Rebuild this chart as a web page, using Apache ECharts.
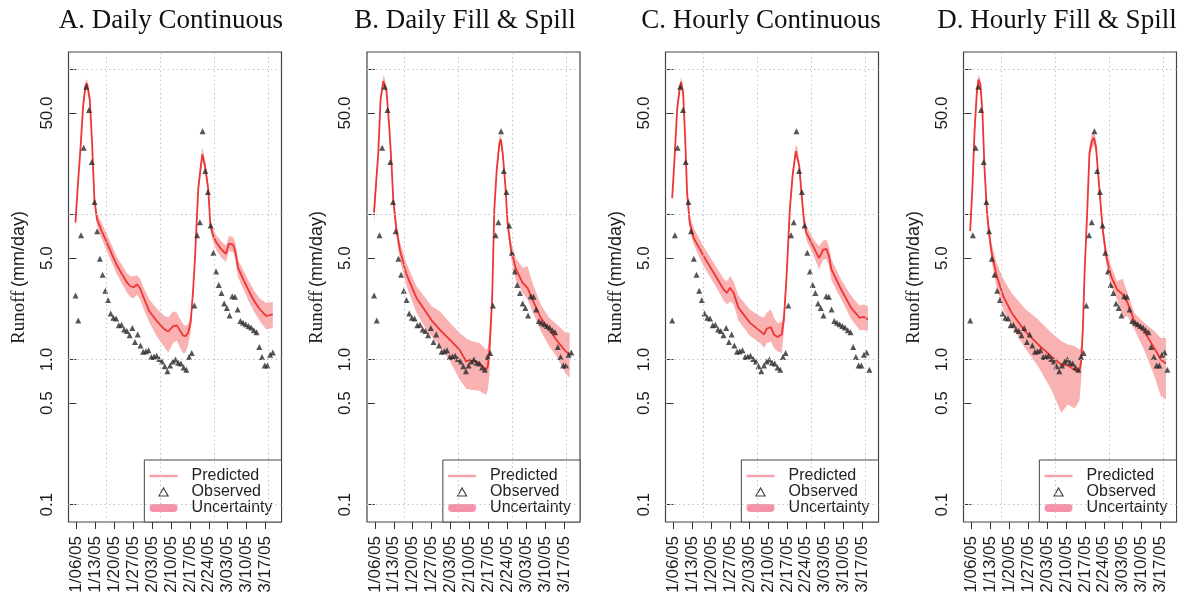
<!DOCTYPE html>
<html>
<head>
<meta charset="utf-8">
<title>Runoff: predicted vs observed</title>
<script src="https://cdn.jsdelivr.net/npm/echarts@6/dist/echarts.min.js"></script>
<style>
  html, body { margin: 0; padding: 0; background: #fff; }
  #chart { width: 1196px; height: 598px; }
</style>
</head>
<body>
<div id="chart"></div>
<script>
// ---- data (days counted from 1/06/05) ----
const panelTitles = ['A. Daily Continuous', 'B. Daily Fill & Spill', 'C. Hourly Continuous', 'D. Hourly Fill & Spill']

const xTickDays = [0, 7, 14, 21, 28, 35, 42, 49, 56, 63, 70]
const xTickLabels = ['1/06/05', '1/13/05', '1/20/05', '1/27/05', '2/03/05', '2/10/05', '2/17/05', '2/24/05', '3/03/05', '3/10/05', '3/17/05']
const yTickValues = [0.1, 0.5, 1, 5, 10, 50, 100]
const yLabelValues = [0.1, 0.5, 1, 5, 50]
const yLabelTexts = ['0.1', '0.5', '1.0', '5.0', '50.0']
const gridDays = [11, 31, 51, 71]
const gridDecades = [0.1, 1, 10, 100]

// observed runoff, one value per day
const observed = [
  2.76, 1.86, 7.2, 28.8, 76, 52.4, 23, 12.2, 7.67, 4.95,
  3.84, 2.98, 2.57, 2.08, 1.94, 1.92, 1.72, 1.74, 1.61, 1.57,
  1.47, 1.65, 1.32, 1.49, 1.25, 1.13, 1.14, 1.16, 1.04, 1.05,
  1.06, 1.01, 0.97, 0.9, 0.83, 0.91, 0.97, 1.0, 0.95, 0.94,
  0.88, 0.85, 1.04, 1.11, 2.36, 7.2, 8.85, 37.5, 19.9, 14.3,
  8.4, 5.44, 4.05, 3.27, 2.88, 2.43, 2.27, 2.01, 2.73, 2.71,
  2.21, 1.84, 1.79, 1.75, 1.7, 1.66, 1.59, 1.54, 1.22, 1.04,
  0.91, 0.91, 1.08, 1.12, 0.85
]

// A. Daily Continuous
const predDaysA = [-0.33, 0.5, 1.5, 2.5, 3.35, 3.95, 4.95, 5.8, 6.65, 7.6, 9.5, 11.3, 13, 15, 17, 18.7, 20, 21.2, 22.4, 23.6, 24.8, 27, 29.7, 32.5, 34, 35.8, 37.2, 38.4, 39.6, 40.4, 41.3, 42.3, 43.2, 43.9, 45.1, 45.8, 46.6, 47.6, 48.8, 49.6, 50.6, 51.8, 53.5, 55.3, 56.5, 58, 58.9, 59.8, 62, 64.1, 66, 67.8, 70.2, 72.7]
const predA = [8.8, 15.5, 28.3, 56, 77, 80, 62, 31.5, 12.8, 9.3, 7.6, 6.4, 5.4, 4.45, 3.85, 3.4, 3.2, 3.15, 3.3, 3.1, 2.7, 2.15, 1.85, 1.62, 1.56, 1.7, 1.72, 1.58, 1.46, 1.45, 1.52, 1.8, 3.0, 5.0, 15, 19.5, 26, 21.7, 15, 8.4, 7.2, 6.4, 5.8, 5.35, 6.3, 6.2, 5.5, 4.3, 3.5, 2.9, 2.5, 2.23, 2.0, 2.05]
const upperA = [9.8, 17, 31, 61, 83, 86, 67, 34, 14, 10.3, 8.6, 7.3, 6.2, 5.1, 4.45, 3.95, 3.75, 3.75, 3.8, 3.6, 3.15, 2.6, 2.25, 2.0, 1.95, 2.15, 2.1, 1.9, 1.75, 1.7, 1.75, 2.05, 3.3, 5.5, 16.3, 21.3, 29, 23.8, 16.3, 9.2, 8.0, 7.2, 6.6, 6.1, 7.1, 7.0, 6.3, 4.9, 4.05, 3.4, 2.95, 2.65, 2.45, 2.5]
const lowerA = [7.9, 14, 26, 51, 71, 74, 57, 29, 11.6, 8.4, 6.7, 5.6, 4.7, 3.85, 3.3, 2.9, 2.7, 2.65, 2.8, 2.6, 2.25, 1.8, 1.45, 1.22, 1.12, 1.3, 1.35, 1.2, 1.1, 1.12, 1.25, 1.55, 2.7, 4.5, 13.8, 17.8, 23.5, 19.8, 13.8, 7.7, 6.5, 5.7, 5.1, 4.7, 5.6, 5.5, 4.8, 3.7, 3.0, 2.45, 2.1, 1.85, 1.62, 1.65]

// B. Daily Fill & Spill
const predDaysB = [-0.33, 0.4, 1.26, 2.1, 3.1, 3.35, 4.3, 5.3, 6.2, 6.8, 7.8, 9.25, 11.7, 15.4, 19.1, 20.9, 24, 27.7, 31.3, 33.8, 35.6, 38.7, 41.2, 41.8, 42.4, 43.4, 44.2, 45.1, 46.1, 46.6, 47.3, 48.3, 49.1, 50.4, 52.2, 54.7, 56.5, 58.3, 61.4, 64.5, 67.5, 70.6, 72.1]
const predB = [10.3, 16, 26.6, 62, 83, 85, 71, 40.5, 21.5, 12.7, 8.3, 5.7, 3.86, 2.66, 2.1, 1.87, 1.61, 1.37, 1.17, 0.97, 1.0, 0.94, 0.85, 0.9, 1.17, 2.6, 10.8, 20.4, 31.2, 32.9, 26.6, 15.7, 8.8, 5.7, 4.2, 3.38, 3.12, 2.6, 1.94, 1.61, 1.34, 1.14, 1.08]
const upperB = [12.3, 18, 29, 67, 89, 91, 76, 44, 23.5, 14, 9.3, 6.5, 4.6, 3.2, 2.6, 2.35, 2.15, 1.8, 1.53, 1.4, 1.34, 1.3, 1.17, 1.2, 1.5, 3.1, 12, 22.5, 34, 36, 29, 17.3, 9.8, 6.5, 5.0, 4.3, 4.4, 3.4, 2.4, 1.94, 1.74, 1.53, 1.53]
const lowerB = [8.5, 14, 24, 57, 77, 79, 66, 37, 19.5, 11.5, 7.4, 4.9, 3.2, 2.1, 1.6, 1.45, 1.24, 0.98, 0.73, 0.63, 0.62, 0.61, 0.57, 0.62, 0.78, 2.2, 9.6, 18.5, 28.5, 30, 24.4, 14.3, 7.9, 5.0, 3.5, 2.88, 2.6, 2.15, 1.57, 1.24, 1.03, 0.8, 0.75]

// C. Hourly Continuous
const predDaysC = [-0.45, 0.4, 1.39, 2.37, 2.86, 3.6, 4.33, 5.07, 6.05, 7.5, 11.2, 14.9, 18.6, 19.8, 21.0, 22.3, 24.1, 28.4, 32.1, 33.6, 34.5, 36.1, 37.2, 38.5, 40.1, 40.9, 41.9, 43.1, 44.1, 45.3, 45.8, 46.6, 47.4, 48.3, 49.2, 51.7, 53.9, 55.4, 56.6, 57.6, 58.5, 62.1, 65.8, 68.9, 70.4, 72.0]
const predC = [13.0, 23.9, 53, 74.8, 82, 69, 34.7, 14.1, 8.76, 6.9, 5.16, 3.96, 3.04, 2.88, 3.12, 2.88, 2.27, 1.79, 1.57, 1.49, 1.63, 1.67, 1.49, 1.43, 1.49, 1.89, 3.76, 10.8, 18.4, 27.3, 27, 21.5, 14.1, 9.2, 7.5, 6.05, 5.0, 5.7, 5.8, 5.16, 4.18, 3.04, 2.27, 1.94, 1.97, 1.89]
const upperC = [14.2, 26, 57.5, 81, 88.5, 75, 38, 15.5, 9.8, 8.1, 6.0, 4.64, 3.6, 3.45, 3.76, 3.45, 2.75, 2.2, 1.99, 1.95, 2.1, 2.21, 1.95, 1.79, 1.8, 2.2, 4.2, 11.8, 20, 30, 29.5, 23.5, 15.4, 10.2, 8.4, 6.8, 6.05, 6.6, 6.7, 6.0, 4.9, 3.56, 2.75, 2.35, 2.4, 2.33]
const lowerC = [11.8, 21.8, 48.5, 68.5, 75.5, 63, 31.5, 12.8, 7.8, 6.2, 4.4, 3.38, 2.55, 2.4, 2.52, 2.4, 1.85, 1.45, 1.3, 1.2, 1.3, 1.33, 1.2, 1.14, 1.11, 1.55, 3.35, 9.8, 16.8, 24.8, 24.6, 19.6, 12.8, 8.3, 6.7, 5.3, 4.18, 4.85, 4.95, 4.4, 3.5, 2.6, 1.9, 1.6, 1.6, 1.57]

// D. Hourly Fill & Spill
const predDaysD = [-0.45, 0.4, 1.14, 2.0, 2.6, 3.35, 4.1, 4.82, 5.7, 6.5, 7.5, 9.4, 11.8, 14.9, 19.8, 24.7, 29.6, 33.3, 35.7, 38.2, 40.0, 40.7, 41.3, 41.9, 42.9, 43.7, 44.6, 45.3, 46.1, 46.8, 47.8, 48.6, 49.9, 51.7, 53.9, 56.0, 57.8, 60.3, 63.9, 67.7, 70.1, 72.0]
const predD = [7.7, 15.7, 36.6, 69, 85, 79, 50, 21.5, 10.8, 7.5, 5.44, 3.76, 2.73, 2.1, 1.57, 1.27, 1.05, 0.92, 0.91, 0.85, 0.83, 1.0, 1.7, 3.96, 10.8, 26.6, 32, 33.8, 29.6, 20.4, 12, 7.9, 5.16, 3.76, 3.04, 2.81, 2.46, 1.84, 1.57, 1.2, 1.0, 0.94]
const upperD = [8.6, 17.5, 40, 75, 92, 86, 55, 23.5, 12, 8.5, 6.3, 4.6, 3.6, 2.88, 2.25, 1.89, 1.53, 1.34, 1.27, 1.24, 1.17, 1.25, 1.95, 4.4, 12, 30, 36, 37.6, 33, 22.5, 13.3, 8.9, 5.9, 4.4, 3.47, 3.6, 2.88, 2.1, 1.79, 1.57, 1.41, 1.41]
const lowerD = [6.9, 14, 33, 63, 79, 73, 46, 19.5, 9.7, 6.6, 4.7, 3.1, 2.2, 1.7, 1.2, 0.9, 0.62, 0.43, 0.49, 0.46, 0.52, 0.75, 1.45, 3.55, 9.7, 24, 28.5, 30, 26.5, 18.5, 10.8, 7.0, 4.5, 3.2, 2.6, 1.95, 1.99, 1.62, 1.17, 0.77, 0.56, 0.53]

// ---- layout / style ----
const gridLefts = [68.5, 367, 665.5, 963.5]
const titleCenters = [171, 465, 761, 1057]
const GRID_TOP = 52
const GRID_W = 213
const GRID_H = 470
const X_MIN = -2.92
const X_MAX = 75.92
const Y_MIN = Math.pow(10, -1.12)
const Y_MAX = Math.pow(10, 2.12)

const LINE_COLOR = '#ee3636'
const BAND_COLOR = 'rgba(240, 70, 70, 0.42)'
const POINT_COLOR = '#2a2a2a'
const TEXT_COLOR = '#1c1c1c'

// legend icons, drawn in a 28x10 box (the bare moves pin the box size)
const ICON_TRIANGLE = 'path://M0,0M28,10M14,1L18.5,9L9.5,9Z'
const ICON_PILL = 'path://M0,0M28,10M4,1L24,1Q28,1 28,5Q28,9 24,9L4,9Q0,9 0,5Q0,1 4,1Z'

const panels = [
  { days: predDaysA, pred: predA, upper: upperA, lower: lowerA, obsShift: -0.3, obsFirst: 0, obsLast: 73 },
  { days: predDaysB, pred: predB, upper: upperB, lower: lowerB, obsShift: -0.3, obsFirst: 0, obsLast: 73 },
  { days: predDaysC, pred: predC, upper: upperC, lower: lowerC, obsShift: -1.45, obsFirst: 1, obsLast: 74 },
  { days: predDaysD, pred: predD, upper: upperD, lower: lowerD, obsShift: -1.45, obsFirst: 1, obsLast: 74 },
]

const yLabel = (v) => {
  const idx = yLabelValues.findIndex(t => Math.abs(Math.log10(v) - Math.log10(t)) < 0.01)
  return idx >= 0 ? yLabelTexts[idx] : ''
}
const xLabel = (v) => {
  const idx = xTickDays.indexOf(Math.round(v))
  return idx >= 0 ? xTickLabels[idx] : ''
}

const grids = []
const xAxes = []
const yAxes = []
const titles = []
const legends = []
const series = []

panels.forEach((p, i) => {
  grids.push({
    left: gridLefts[i], top: GRID_TOP, width: GRID_W, height: GRID_H,
    show: true, borderColor: '#444', borderWidth: 1.2, backgroundColor: 'transparent',
  })

  xAxes.push({
    type: 'value', gridIndex: i, min: X_MIN, max: X_MAX,
    axisLine: { show: false },
    axisTick: { show: true, customValues: xTickDays, length: 7, lineStyle: { color: '#333', width: 1 } },
    axisLabel: {
      customValues: xTickDays, rotate: 90, margin: 14, formatter: xLabel,
      fontFamily: 'Liberation Sans', fontSize: 17, color: TEXT_COLOR,
    },
    splitLine: { show: false },
  })

  yAxes.push({
    type: 'log', logBase: 10, gridIndex: i, min: Y_MIN, max: Y_MAX,
    axisLine: { show: false },
    axisTick: { show: true, customValues: yTickValues, length: 7, lineStyle: { color: '#333', width: 1 } },
    axisLabel: {
      customValues: yLabelValues, rotate: 90, margin: 13, formatter: yLabel,
      fontFamily: 'Liberation Sans', fontSize: 17, color: TEXT_COLOR,
    },
    splitLine: { show: false },
    name: '{a|Runoff} {b|(mm/day)}',
    nameLocation: 'middle',
    nameGap: 40,
    nameTextStyle: {
      padding: [0, 0, 0, 19],
      rich: {
        a: { fontFamily: '"Liberation Serif", "DejaVu Serif", serif', fontSize: 19, color: TEXT_COLOR },
        b: { fontFamily: '"Liberation Sans", sans-serif', fontSize: 18, color: TEXT_COLOR },
      },
    },
  })

  titles.push({
    text: panelTitles[i], left: titleCenters[i], top: 7, textAlign: 'center', padding: 0,
    textStyle: { fontFamily: 'Liberation Serif', fontSize: 27, fontWeight: 'normal', color: '#111' },
  })

  legends.push({
    orient: 'vertical',
    right: 1196 - (gridLefts[i] + GRID_W),
    bottom: 598 - (GRID_TOP + GRID_H),
    padding: [8, 9, 6, 4],
    itemWidth: 28, itemHeight: 10, itemGap: 0,
    borderColor: '#444', borderWidth: 1, borderRadius: 0,
    backgroundColor: '#fff',
    selectedMode: false,
    textStyle: { fontFamily: 'Liberation Sans', fontSize: 16, lineHeight: 16, color: '#222', padding: [0, 0, 0, 9] },
    data: [
      { name: 'Predicted', itemStyle: { opacity: 0 }, lineStyle: { color: '#f6a0b0', width: 2.5, opacity: 1 } },
      { name: 'Observed', icon: ICON_TRIANGLE, itemStyle: { color: '#fff', borderColor: '#444', borderWidth: 1.2, opacity: 1 } },
      { name: 'Uncertainty', icon: ICON_PILL, itemStyle: { color: '#f592aa', borderWidth: 0, opacity: 1 } },
    ],
  })

  // dotted reference grid
  series.push({
    type: 'line', name: 'grid-' + i, xAxisIndex: i, yAxisIndex: i, data: [], z: 1, silent: true,
    markLine: {
      silent: true, symbol: ['none', 'none'], label: { show: false }, animation: false,
      lineStyle: { color: '#c4c4c4', type: [1.5, 3], width: 1 },
      data: gridDecades.map(v => ({ yAxis: v })).concat(gridDays.map(d => ({ xAxis: d }))),
    },
  })

  // uncertainty band: one polygon, upper bound forward then lower bound back
  series.push({
    type: 'custom', name: 'Uncertainty', xAxisIndex: i, yAxisIndex: i, z: 2, silent: true, clip: true,
    itemStyle: { color: '#f592aa' },
    encode: { x: 0, y: [1, 2] },
    data: p.days.map((d, k) => [d, p.lower[k], p.upper[k]]),
    renderItem: (params, api) => {
      if (params.dataIndex !== 0) return null
      const top = p.days.map((d, k) => api.coord([d, p.upper[k]]))
      const bottom = p.days.map((d, k) => api.coord([d, p.lower[k]])).reverse()
      return {
        type: 'polygon',
        shape: { points: top.concat(bottom) },
        style: { fill: BAND_COLOR, stroke: null },
      }
    },
  })

  series.push({
    type: 'line', name: 'Predicted', xAxisIndex: i, yAxisIndex: i, z: 3,
    symbol: 'none', color: LINE_COLOR, lineStyle: { color: LINE_COLOR, width: 1.8 },
    data: p.days.map((d, k) => [d, p.pred[k]]),
  })

  const obs = observed.slice(p.obsFirst, p.obsLast + 1).map((v, k) => [p.obsFirst + k + p.obsShift, v])
  series.push({
    type: 'scatter', name: 'Observed', xAxisIndex: i, yAxisIndex: i, z: 4,
    symbol: 'triangle', symbolSize: 6, itemStyle: { color: POINT_COLOR },
    data: obs,
  })
})

const chart = echarts.init(document.getElementById('chart'), null, { renderer: 'canvas' })
chart.setOption({
  animation: false,
  backgroundColor: '#fff',
  title: titles,
  legend: legends,
  grid: grids,
  xAxis: xAxes,
  yAxis: yAxes,
  series: series,
})
</script>
</body>
</html>
